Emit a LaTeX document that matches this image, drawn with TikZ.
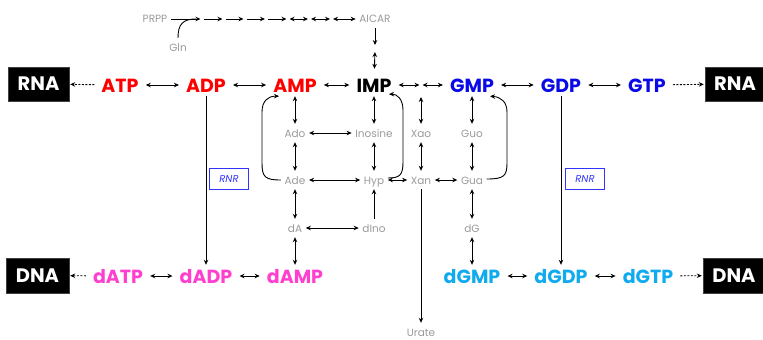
\documentclass[tikz,border=0pt]{standalone}
\usepackage{fontspec}
\setmainfont{Poppins}
\usetikzlibrary{arrows.meta}
\definecolor{cred}{HTML}{FF0000}
\definecolor{cblue}{HTML}{0A0AE6}
\definecolor{cpink}{HTML}{FF3FCF}
\definecolor{ccyan}{HTML}{10AAEE}
\definecolor{cgray}{HTML}{9A9A9A}
\definecolor{crnr}{HTML}{3333FF}
\begin{document}
\begin{tikzpicture}[x=1pt,y=-1pt,
 main/.style={font=\fontsize{19}{19}\selectfont\bfseries, inner xsep=7pt, inner ysep=4pt, text height=14pt, text depth=0pt},
 small/.style={font=\fontsize{10.5}{10.5}\selectfont, text=cgray, inner xsep=3.5pt, inner ysep=5pt, text height=8pt, text depth=0pt},
 blackbox/.style={fill=black, draw=black!75, text=white, font=\fontsize{19.5}{19.5}\selectfont\bfseries, minimum height=34pt, inner sep=0pt},
 ar/.style={-{Stealth[length=5pt,width=4.5pt]}, line width=0.9pt},
 dar/.style={{Stealth[length=5pt,width=4.5pt]}-{Stealth[length=5pt,width=4.5pt]}, line width=0.9pt},
 dsh/.style={ar, dash pattern=on 2pt off 1.5pt},
 gap/.style={shorten <=1.5pt, shorten >=1.5pt},
 rnrbox/.style={draw=crnr, text=crnr, font=\fontsize{10}{10}\selectfont\itshape, minimum width=39pt, minimum height=21pt, inner sep=0pt, line width=0.8pt}
]
\useasboundingbox (0,0) rectangle (763,340);

% top chain
\node[small] (PRPP) at (155,19) {PRPP};
\node[small] (AICAR) at (375,19) {AICAR};
\node[small] (Gln) at (178,47) {Gln};
\coordinate (p1) at (202,19);
\coordinate (p2) at (224,19);
\coordinate (p3) at (245,19);
\coordinate (p4) at (266.5,19);
\coordinate (p5) at (288,19);
\coordinate (p6) at (309.5,19);
\coordinate (p7) at (331.5,19);
\coordinate (faicar) at (375,48.5);

% row 1
\node[blackbox, minimum width=61pt] (RNAl) at (38.5,84) {RNA};
\node[main, text=cred] (ATP) at (120,85) {ATP};
\node[main, text=cred] (ADP) at (206,85) {ADP};
\node[main, text=cred] (AMP) at (295,85) {AMP};
\node[main, text=black] (IMP) at (374,85) {IMP};
\coordinate (xmp) at (421,85);
\node[main, text=cblue] (GMP) at (472,85) {GMP};
\node[main, text=cblue] (GDP) at (561,85) {GDP};
\node[main, text=cblue] (GTP) at (647,85) {GTP};
\node[blackbox, minimum width=60pt] (RNAr) at (735,84) {RNA};

% middle
\node[small] (Ado) at (295,133) {Ado};
\node[small] (Inosine) at (374,133) {Inosine};
\node[small] (Xao) at (421,133) {Xao};
\node[small] (Guo) at (472,133) {Guo};
\node[small] (Ade) at (295,180) {Ade};
\node[small] (Hyp) at (374,180) {Hyp};
\node[small] (Xan) at (421,180) {Xan};
\node[small] (Gua) at (472,180) {Gua};
\node[small] (dA) at (295,228) {dA};
\node[small] (dIno) at (374,228) {dIno};
\node[small] (dG) at (472,228) {dG};
\node[small] (Urate) at (421,332) {Urate};

\node[rnrbox] (rnrL) at (229,179) {RNR};
\node[rnrbox] (rnrR) at (585,179) {RNR};

% row 3
\node[blackbox, minimum width=63pt, minimum height=35pt] (DNAl) at (37.5,275.5) {DNA};
\node[main, text=cpink] (dATP) at (118,276) {dATP};
\node[main, text=cpink] (dADP) at (206,276) {dADP};
\node[main, text=cpink] (dAMP) at (295,276) {dAMP};
\node[main, text=ccyan] (dGMP) at (472,276) {dGMP};
\node[main, text=ccyan] (dGDP) at (561,276) {dGDP};
\node[main, text=ccyan] (dGTP) at (648,276) {dGTP};
\node[blackbox, minimum width=62pt, minimum height=35pt] (DNAr) at (734,275.5) {DNA};

% top chain arrows
\draw[ar, shorten >=1.5pt] (PRPP) -- (p1);
\draw[ar, gap] (p1) -- (p2);
\draw[ar, gap] (p2) -- (p3);
\draw[ar, gap] (p3) -- (p4);
\draw[ar, gap] (p4) -- (p5);
\draw[dar, gap] (p5) -- (p6);
\draw[dar, gap] (p6) -- (p7);
\draw[dar, shorten <=1.5pt] (p7) -- (AICAR);
\draw[line width=0.9pt] (Gln.north) .. controls (178,24) and (183,19) .. (196,19);
\draw[ar, shorten >=3.5pt] (AICAR) -- (faicar);
\draw[dar, shorten <=3.5pt, shorten >=5pt] (faicar) -- (IMP);

% row 1 arrows
\draw[dsh, shorten >=1pt] (ATP) -- (RNAl);
\draw[dar] (ATP) -- (ADP);
\draw[dar] (ADP) -- (AMP);
\draw[dar] (AMP) -- (IMP);
\draw[dar, shorten >=1.5pt] (IMP) -- (xmp);
\draw[dar, shorten <=1.5pt] (xmp) -- (GMP);
\draw[dar] (GMP) -- (GDP);
\draw[dar] (GDP) -- (GTP);
\draw[dsh, shorten >=1pt] (GTP) -- (RNAr);

% verticals
\draw[dar] (AMP) -- (Ado);
\draw[dar] (Ado) -- (Ade);
\draw[dar] (Ade) -- (dA);
\draw[dar] (dA) -- (dAMP);
\draw[dar] (IMP) -- (Inosine);
\draw[dar] (Inosine) -- (Hyp);
\draw[ar] (dIno) -- (Hyp);
\draw[dar, shorten <=12pt] (xmp) -- (Xao);
\draw[dar] (Xao) -- (Xan);
\draw[ar] (Xan) -- (Urate);
\draw[dar] (GMP) -- (Guo);
\draw[dar] (Guo) -- (Gua);
\draw[dar] (Gua) -- (dG);
\draw[dar] (dG) -- (dGMP);
\draw[ar] (ADP) -- (dADP);
\draw[ar] (GDP) -- (dGDP);

% horizontals middle
\draw[dar] (Ado) -- (Inosine);
\draw[dar] (Ade) -- (Hyp);
\draw[dar] (Hyp) -- (Xan);
\draw[dar] (Xan) -- (Gua);
\draw[dar] (dA) -- (dIno);

% salvage curves
\draw[ar] (Ade.west) .. controls (265,180) and (262,177) .. (262,163) -- (262,112)
  .. controls (262,101) and (268,96) .. ([xshift=-16pt]AMP.south);
\draw[ar] ([yshift=2pt]Hyp.east) .. controls (400,178) and (403,175) .. (403,162) -- (403,110)
  .. controls (403,99) and (397,94) .. ([xshift=15pt,yshift=2pt]IMP.south);
\draw[ar] ([yshift=1pt]Gua.east) .. controls (504,179) and (507,176) .. (507,163) -- (507,112)
  .. controls (507,102) and (501,97) .. ([xshift=18pt]GMP.south);

% row 3 arrows
\draw[dsh, shorten >=1pt] (dATP) -- (DNAl);
\draw[dar] (dATP) -- (dADP);
\draw[dar] (dADP) -- (dAMP);
\draw[dar] (dGMP) -- (dGDP);
\draw[dar] (dGDP) -- (dGTP);
\draw[dsh, shorten >=1pt] (dGTP) -- (DNAr);
\end{tikzpicture}
\end{document}
